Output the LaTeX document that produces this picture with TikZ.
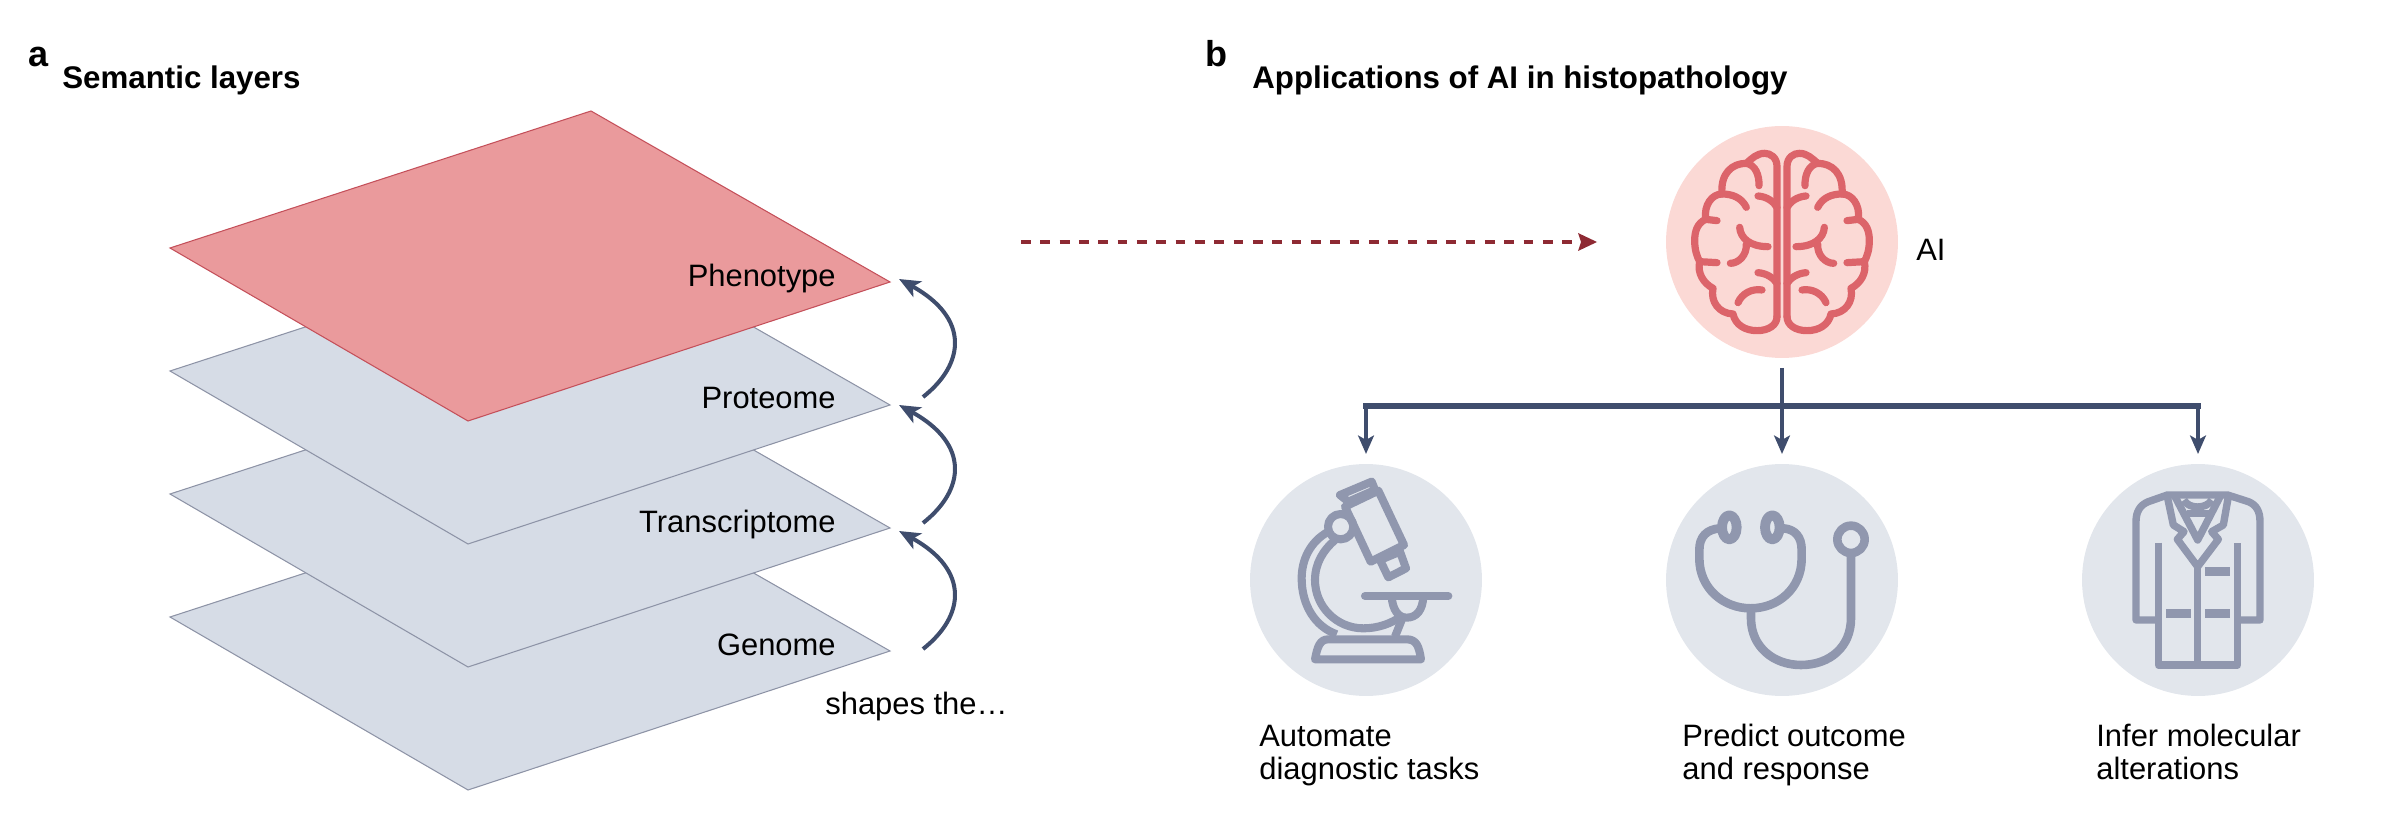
\documentclass[tikz,border=0pt]{standalone}
\usepackage{fontspec}
\setmainfont{Liberation Sans}
\usepackage{tikz}
\usetikzlibrary{arrows.meta}

\definecolor{layergrey}{HTML}{D6DCE6}
\definecolor{layeredge}{HTML}{8D93A6}
\definecolor{layerred}{HTML}{EA9A9C}
\definecolor{rededge}{HTML}{C4505A}
\definecolor{navy}{HTML}{3F4D6D}
\definecolor{darkred}{HTML}{8E2A33}
\definecolor{brainbg}{HTML}{FBD9D5}
\definecolor{brainline}{HTML}{DC646A}
\definecolor{iconbg}{HTML}{E2E6EC}
\definecolor{iconline}{HTML}{9097AE}

\tikzset{
  labeltext/.style={font=\fontsize{17.6}{18.6}\selectfont, inner sep=0pt},
  titletext/.style={font=\fontsize{17.8}{18.6}\selectfont\bfseries, inner sep=0pt, anchor=base west},
  paneltext/.style={font=\fontsize{20.5}{22}\selectfont\bfseries, inner sep=0pt, anchor=base west},
  disc/.style={circle, minimum size=4.64cm, inner sep=0pt},
  shapes arrow/.style={navy, line width=2.3pt, -{Stealth[length=12pt, width=10pt, inset=3pt]}},
  tree arrow/.style={navy, line width=2.5pt, -{Stealth[length=10.5pt, width=9pt, inset=2.5pt]}},
  icon/.style={iconline, line width=4.6pt, line join=round},
  zoomed/.style={x=0.02cm/3, y=-0.02cm/3}
}

\begin{document}
\begin{tikzpicture}[x=0.02cm, y=-0.02cm, labeltext]
  \useasboundingbox (0,0) rectangle (2384,834);

  % layers, bottom one first
  \foreach \n/\lab/\dy/\ady in {gen/Genome/369/252, tra/Transcriptome/246/126, pro/Proteome/123/0} {
    \draw[fill=layergrey, draw=layeredge, line width=0.6pt]
      (170,248+\dy) -- (591,111+\dy) -- (890,282+\dy) -- (468,421+\dy) -- cycle;
    \node[anchor=base east] (\n) at (836,286+\dy) {\lab};
    \coordinate (\n-tip) at (899,405+\ady);
    \coordinate (\n-out) at (923,397+\ady);
  }
  \draw[fill=layerred, draw=rededge, line width=0.6pt]
    (170,248) -- (591,111) -- (890,282) -- (468,421) -- cycle;
  \node[anchor=base east] (phe) at (836,287) {Phenotype};
  \coordinate (phe-tip) at (899,279);

  \draw[shapes arrow] (gen-out) .. controls (965,616) and (970,570) .. (tra-tip);
  \draw[shapes arrow] (tra-out) .. controls (965,490) and (970,444) .. (pro-tip);
  \draw[shapes arrow] (pro-out) .. controls (965,364) and (970,318) .. (phe-tip);
  \node[anchor=base west] (shapes) at (825,714) {shapes the\dots};

  \node[paneltext] (a) at (28,67) {a};
  \node[titletext] (atitle) at (62,89) {Semantic layers};
  \node[paneltext] (b) at (1205,67) {b};
  \node[titletext] (btitle) at (1252,89) {Applications of AI in histopathology};

  \node[disc, fill=brainbg] (brain) at (1782,242) {};
  \node[disc, fill=iconbg] (scope) at (1366,580) {};
  \node[disc, fill=iconbg] (steth) at (1782,580) {};
  \node[disc, fill=iconbg] (coat) at (2198,580) {};
  \node[anchor=base west] (ai) at (1916,261) {AI};

  \coordinate (from) at (1021,242);
  \draw[darkred, line width=2.7pt, dash pattern=on 5.6pt off 5.4pt] (from) -- (1578,242);
  \fill[darkred] (1597,242) -- (1578,233) -- (1581,242) -- (1578,251) -- cycle;

  % tree under the brain
  \coordinate (hub) at (1782,406);
  \draw[navy, line width=2.5pt] (1782,368) -- (hub);
  \draw[navy, line width=3pt, line cap=rect] (scope |- hub) -- (coat |- hub);
  \draw[tree arrow] (scope |- hub) -- ++(0,48);
  \draw[tree arrow] (hub) -- ++(0,48);
  \draw[tree arrow] (coat |- hub) -- ++(0,48);

  % brain
  \foreach \s in {1,-1} {
    \begin{scope}[shift={(1782,120)}, zoomed, xscale=\s, brainline, line width=4.1pt, line cap=round, line join=round]
      \draw (-15,590) -- (-15,140) .. controls (-15,112) and (-35,100) .. (-52,100)
        .. controls (-75,100) and (-90,115) .. (-107,130)
        .. controls (-80,135) and (-68,165) .. (-69,197);
      \draw (-107,130) .. controls (-150,130) and (-185,160) .. (-180,222);
      \draw (-107,262) .. controls (-122,232) and (-150,222) .. (-180,222)
        .. controls (-210,222) and (-235,255) .. (-229,298);
      \draw (-195,302) -- (-229,298) .. controls (-255,310) and (-262,335) .. (-262,362)
        .. controls (-262,390) and (-255,410) .. (-247,425) -- (-195,428);
      \draw (-247,425) .. controls (-255,460) and (-235,490) .. (-207,505)
        .. controls (-215,545) and (-190,580) .. (-147,582)
        .. controls (-140,615) and (-110,632) .. (-75,632)
        .. controls (-40,632) and (-15,615) .. (-15,590);
      \draw (-72,228) .. controls (-45,230) and (-25,245) .. (-15,262);
      \draw (-72,458) .. controls (-45,460) and (-25,475) .. (-15,490);
      \draw (-127,322) .. controls (-125,355) and (-95,380) .. (-42,380);
      \draw (-107,372) .. controls (-105,405) and (-130,430) .. (-155,430);
      \draw (-132,548) .. controls (-120,520) and (-90,505) .. (-60,510);
    \end{scope}
  }

  % microscope
  \begin{scope}[shift={(1220,450)}, zoomed, icon]
    \draw (375,170) -- (475,122) -- (552,285) -- (452,335) -- cycle;
    \draw (360,135) -- (455,95) -- (465,120) -- (385,155) -- cycle;
    \draw (480,330) -- (540,305) -- (558,355) -- (505,382) -- cycle;
    \draw (362,230) circle (38);
    \draw (325,245) .. controls (270,275) and (245,330) .. (245,385)
      .. controls (245,465) and (285,530) .. (350,553);
    \draw (345,270) .. controls (310,300) and (285,340) .. (285,390)
      .. controls (285,470) and (350,535) .. (430,535) .. controls (475,535) and (515,520) .. (545,498);
    \draw (515,440) .. controls (518,480) and (535,503) .. (560,503) .. controls (590,503) and (608,480) .. (610,440);
    \draw[line cap=round] (435,438) -- (685,438);
    \draw (285,628) -- (603,628) .. controls (597,590) and (590,568) .. (560,568) -- (325,568) .. controls (300,568) and (292,590) .. (285,628) -- cycle;
    \draw (545,510) -- (525,560);
  \end{scope}

  % stethoscope
  \begin{scope}[shift={(1640,450)}, zoomed, icon, line width=4.9pt]
    \draw (240,235) .. controls (200,238) and (178,260) .. (178,300) -- (178,325)
      .. controls (178,415) and (250,475) .. (332,475)
      .. controls (415,475) and (485,415) .. (485,325) -- (485,300)
      .. controls (485,260) and (465,238) .. (430,235);
    \draw (333,480) -- (333,505) .. controls (333,590) and (400,645) .. (483,645)
      .. controls (570,645) and (633,590) .. (633,505) -- (633,310);
    \draw[line width=5.6pt] (268,232) ellipse (22 and 36);
    \draw[line width=5.6pt] (397,232) ellipse (22 and 36);
    \draw (633,268) circle (41);
  \end{scope}

  % lab coat
  \begin{scope}[shift={(2060,450)}, zoomed, icon, line width=4.2pt]
    \draw (290,510) -- (228,510) -- (228,215) .. controls (228,185) and (240,165) .. (265,155)
      -- (322,135) -- (503,135) -- (565,155) .. controls (590,165) and (600,185) .. (600,215)
      -- (600,510) -- (538,510);
    \draw (295,278) -- (295,645) -- (533,645) -- (533,278);
    \draw (413,350) -- (413,645);
    \draw (322,140) -- (340,225) -- (372,245) -- (352,268) -- (413,350) -- (475,268) -- (455,245) -- (490,225) -- (505,140);
    \draw (345,140) -- (413,270) -- (480,140);
    \draw (372,150) .. controls (385,178) and (440,178) .. (455,150);
    \draw (380,190) -- (446,190);
    \draw[line width=4.9pt] (318,491) -- (393,491) (435,491) -- (510,491) (435,365) -- (510,365);
  \end{scope}

  \node[anchor=base west, align=left] (autotext) at (1259,779) {Automate\\diagnostic tasks};
  \node[anchor=base west, align=left] (predtext) at (1682,779) {Predict outcome\\and response};
  \node[anchor=base west, align=left] (infertext) at (2096,779) {Infer molecular\\alterations};
\end{tikzpicture}
\end{document}
